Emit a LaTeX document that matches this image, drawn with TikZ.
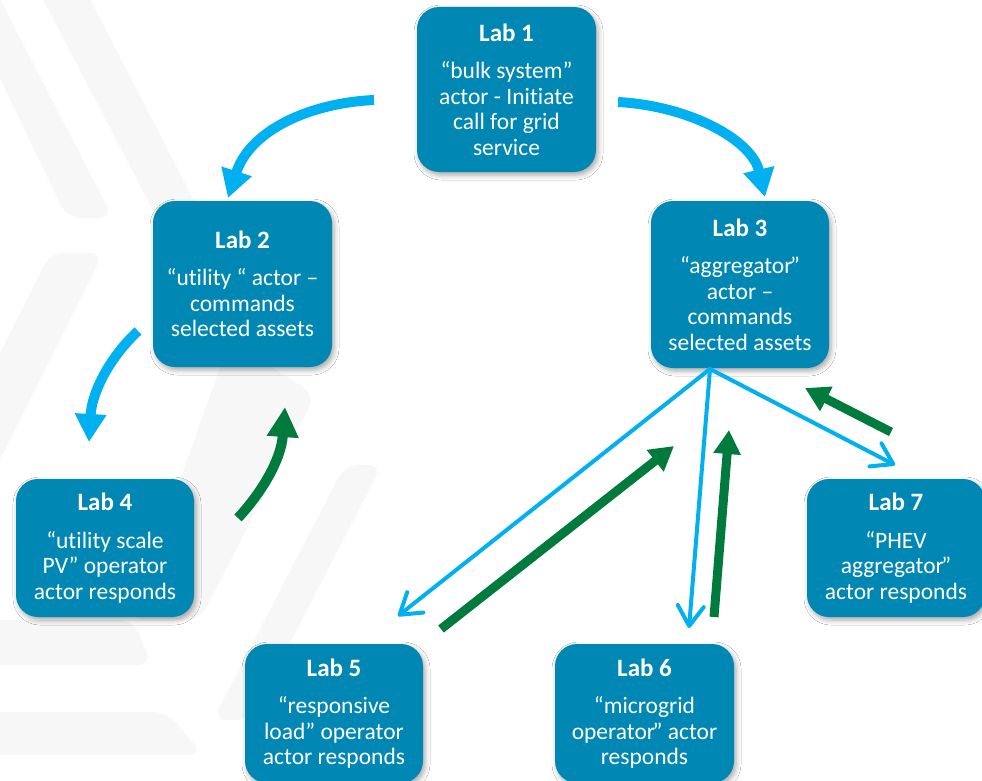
\documentclass[tikz,border=0pt]{standalone}
\usepackage{fontspec}
\setmainfont{Carlito}[Ligatures=NoCommon]
\usetikzlibrary{arrows.meta,shadows.blur}
\definecolor{boxblue}{HTML}{0087B4}
\definecolor{cyanarr}{HTML}{00B0F0}
\definecolor{greenarr}{HTML}{007A3D}
\definecolor{stripe}{HTML}{F7F7F7}
\newcommand\labtitle[1]{{\bfseries\fontsize{25}{30}\selectfont #1}\\[12pt]}
\newcommand\rqk{\kern-2.5pt”}
\begin{document}
\begin{tikzpicture}[x=1pt,y=-1pt,
  labbox/.style={rectangle, rounded corners=22pt, fill=boxblue, text=white,
    minimum width=179pt, align=center, inner sep=0pt,
    font=\fontsize{23.5}{25.5}\selectfont,
    blur shadow={shadow xshift=2pt, shadow yshift=-3pt, shadow blur radius=5pt, shadow opacity=35}},
  bigcyan/.style={draw=cyanarr, line width=10pt, -{Triangle[width=30pt,length=28pt]}},
  biggreen/.style={draw=greenarr, line width=10pt, -{Triangle[width=30pt,length=30pt]}},
  thincyan/.style={draw=cyanarr, line width=4pt, line cap=round, -{Straight Barb[width=26pt,length=20pt,round]}},
  greenline/.style={draw=greenarr, line width=9pt, -{Triangle[width=26pt,length=24pt]}},
  stripeband/.style={fill=stripe, rounded corners=14pt}]
\useasboundingbox (0,0) rectangle (982,781);
\fill[white] (0,0) rectangle (982,781);
% faint background bands
\begin{scope}
\clip (0,0) rectangle (982,781);
\fill[stripeband] (-47,-20) -- (-10,-20) -- (113,218) -- (67,218) -- cycle;
\fill[stripeband] (33,-20) -- (80,-20) -- (203,218) -- (157,218) -- cycle;
\fill[stripeband] (50,253) -- (103,253) -- (-20,500) -- (-73,500) -- cycle;
\fill[stripeband] (230,340) -- (315,395) -- (200,620) -- (130,620) -- cycle;
\fill[stripeband] (345,465) -- (382,465) -- (250,720) -- (213,720) -- cycle;
\fill[stripeband] (-20,620) -- (133,620) -- (152,665) -- (-20,665) -- cycle;
\fill[stripeband] (-20,712) -- (167,712) -- (203,755) -- (-20,755) -- cycle;
\end{scope}
% boxes
\node[labbox, minimum height=165pt] (L1) at (506.5,89.5) {\labtitle{Lab 1}“bulk system”\\actor - Initiate\\call for grid\\service};
\node[labbox, minimum height=166pt] (L2) at (242.5,284) {\labtitle{Lab 2}“utility “ actor –\\commands\\selected assets};
\node[labbox, minimum height=167pt, minimum width=178pt] (L3) at (740,284.5) {\labtitle{Lab 3}“aggregator\rqk\\actor –\\commands\\selected assets};
\node[labbox, minimum height=138pt, minimum width=178pt] (L4) at (105,548) {\labtitle{Lab 4}“utility scale\\PV” operator\\actor responds};
\node[labbox, minimum height=139pt, minimum width=178pt] (L5) at (334,713.5) {\labtitle{Lab 5}“responsive\\load” operator\\actor responds};
\node[labbox, minimum height=139pt] (L6) at (644.5,713.5) {\labtitle{Lab 6}“microgrid\\operator\rqk{} actor\\responds};
\node[labbox, minimum height=138pt, minimum width=178pt] (L7) at (896,548) {\labtitle{Lab 7}“PHEV\\aggregator\rqk\\actor responds};
% connector end points
\coordinate (a12s) at (374,100);  \coordinate (a12e) at (228,198);
\coordinate (a13s) at (618,102);  \coordinate (a13e) at (765,197);
\coordinate (a24s) at (138,331);  \coordinate (a24e) at (89,442);
\coordinate (a42s) at (238,518);  \coordinate (a42e) at (285,407);
\coordinate (fan) at (710,369);
\coordinate (f5) at (398,616); \coordinate (f6) at (689,628); \coordinate (f7) at (895,465);
\coordinate (g5s) at (441,629); \coordinate (g5e) at (674,446);
\coordinate (g6s) at (714,617); \coordinate (g6e) at (729,430);
\coordinate (g7s) at (891,432); \coordinate (g7e) at (805,388);
% curved arrows
\draw[bigcyan] (a12s) .. controls (310,103) and (250,130) .. (a12e);
\draw[bigcyan] (a13s) .. controls (690,106) and (752,140) .. (a13e);
\draw[bigcyan] (a24s) .. controls (112,355) and (92,390) .. (a24e);
\draw[biggreen] (a42s) .. controls (262,492) and (281,460) .. (a42e);
% fan from Lab 3
\draw[thincyan] (fan) -- (f5);
\draw[thincyan] (fan) -- (f6);
\draw[thincyan] (fan) -- (f7);
% responses
\draw[greenline] (g5s) -- (g5e);
\draw[greenline] (g6s) -- (g6e);
\draw[greenline] (g7s) -- (g7e);
\end{tikzpicture}
\end{document}
